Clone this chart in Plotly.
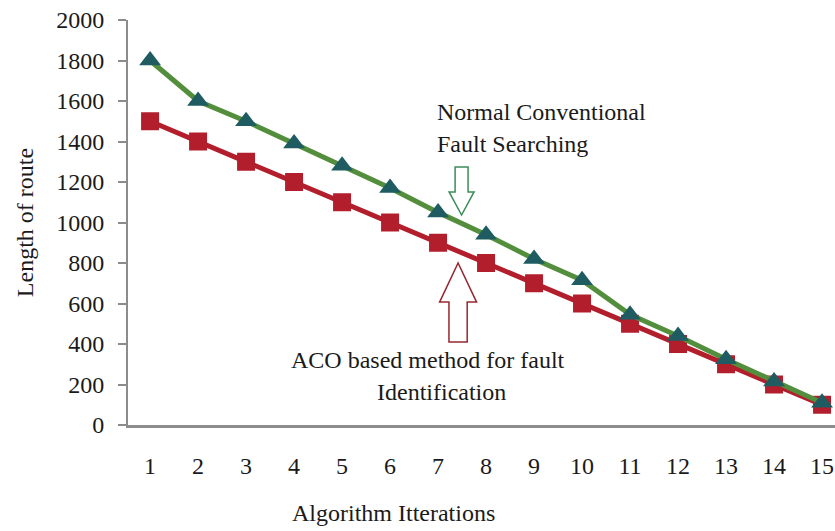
import plotly.graph_objects as go

iterations = list(range(1, 16))
tick_labels = [str(i) for i in iterations]
normal_conventional = [1800, 1600, 1500, 1390, 1280, 1170, 1050, 940, 820, 715, 545, 440, 325, 215, 110]
aco_based = [1500, 1400, 1300, 1200, 1100, 1000, 900, 800, 700, 600, 500, 400, 300, 200, 100]

FONT = "'Liberation Serif', 'DejaVu Serif', serif"
TXT = "#1a1a1a"
GREEN = "rgb(82,142,60)"
RED = "rgb(178,30,44)"

fig = go.Figure()
fig.add_trace(go.Scatter(
    x=iterations, y=aco_based, mode="lines+markers",
    line=dict(color=RED, width=5),
    marker=dict(symbol="square", size=18, color=RED, line=dict(width=0)),
    showlegend=False))
fig.add_trace(go.Scatter(
    x=iterations, y=normal_conventional, mode="lines+markers",
    line=dict(color=GREEN, width=5),
    marker=dict(symbol="triangle-up", size=19, color="rgb(30,92,98)", line=dict(width=0)),
    showlegend=False))

def arrow_down(xc, shaft_half, head_half, top, shaft_bot, tip):
    return (f"M {xc-shaft_half} {top} L {xc+shaft_half} {top} L {xc+shaft_half} {shaft_bot} "
            f"L {xc+head_half} {shaft_bot} L {xc} {tip} L {xc-head_half} {shaft_bot} "
            f"L {xc-shaft_half} {shaft_bot} Z")

fig.add_shape(type="path", xref="x", yref="y",
              path=arrow_down(7.49, 0.135, 0.26, 1274, 1151, 1037),
              line=dict(color="rgb(60,140,90)", width=1.5), fillcolor="rgba(0,0,0,0)")
fig.add_shape(type="path", xref="x", yref="y",
              path=arrow_down(7.417, 0.19, 0.385, 410, 607, 800),
              line=dict(color="rgb(150,40,50)", width=1.5), fillcolor="rgba(0,0,0,0)")

def note(text, x, y, xanchor="left"):
    fig.add_annotation(text=text, x=x, y=y, xref="x", yref="y", showarrow=False,
                       xanchor=xanchor, yanchor="middle",
                       font=dict(family=FONT, size=24, color=TXT))

note("Normal Conventional", 6.94, 1545)
note("Fault Searching", 6.94, 1390)
note("ACO based method for fault", 6.78, 323, "center")
note("Identification", 7.08, 165, "center")

fig.add_annotation(text="Algorithm Itterations", xref="paper", yref="paper",
                   x=(393 - 128) / (835 - 128), y=-(513 - 425) / 405,
                   xanchor="center", yanchor="middle", showarrow=False,
                   font=dict(family=FONT, size=24, color=TXT))

fig.update_layout(
    width=835, height=531,
    margin=dict(l=128, r=0, t=20, b=106),
    plot_bgcolor="white", paper_bgcolor="white",
    font=dict(family=FONT, size=24, color=TXT),
    xaxis=dict(range=[0.54, 15.27], tickmode="array", tickvals=iterations, ticktext=tick_labels,
               showgrid=False, zeroline=False, showline=True, linecolor="#8c8c8c", linewidth=2.5,
               ticks="", ticklabelstandoff=17, tickfont=dict(family=FONT, size=24, color=TXT)),
    yaxis=dict(range=[0, 2000], tickvals=list(range(0, 2001, 200)),
               showgrid=False, zeroline=False, showline=True, linecolor="#8c8c8c", linewidth=2,
               ticks="outside", ticklen=8, tickcolor="#8c8c8c", tickwidth=2,
               ticklabelstandoff=9, tickfont=dict(family=FONT, size=24, color=TXT),
               title=dict(text="Length of route", standoff=16,
                          font=dict(family=FONT, size=24, color=TXT))),
)

fig.write_html("out.html")
